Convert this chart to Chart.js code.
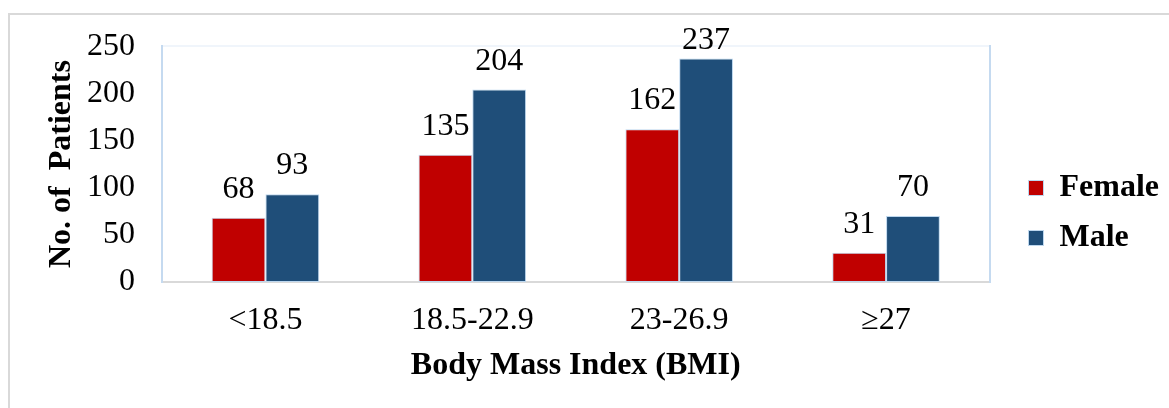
<!DOCTYPE html>
<html>
<head>
<meta charset="utf-8">
<script src="https://cdn.jsdelivr.net/npm/chart.js@4/dist/chart.umd.min.js"></script>
<style>
  html, body { margin: 0; padding: 0; background: #ffffff; }
  #wrap { position: relative; width: 1169px; height: 408px; overflow: hidden; }
  #frame { position: absolute; left: 8px; top: 13px; width: 1200px; height: 420px;
           border-top: 2px solid #d9d9d9; border-left: 2px solid #d9d9d9; }
  #c { position: absolute; left: 0; top: 0; }
</style>
</head>
<body>
<div id="wrap">
  <div id="frame"></div>
  <canvas id="c" width="1169" height="408"></canvas>
</div>
<script>
const categories = ['<18.5', '18.5-22.9', '23-26.9', '\u226527'];
const femaleValues = [68, 135, 162, 31];
const maleValues = [93, 204, 237, 70];
const seriesNames = ['Female', 'Male'];
const yTicks = [0, 50, 100, 150, 200, 250];
const xTitle = 'Body Mass Index (BMI)';
const yTitle = 'No. of  Patients';

const FONT = "'Liberation Serif', 'Times New Roman', serif";

const dataLabels = {
  id: 'dataLabels',
  afterDatasetsDraw(chart) {
    const ctx = chart.ctx;
    ctx.save();
    ctx.font = '32px ' + FONT;
    ctx.fillStyle = '#000000';
    ctx.textAlign = 'center';
    ctx.textBaseline = 'alphabetic';
    chart.data.datasets.forEach((ds, i) => {
      const meta = chart.getDatasetMeta(i);
      meta.data.forEach((bar, j) => {
        const y = Math.max(bar.y - 20, chart.chartArea.top + 3);
        ctx.fillText(String(ds.data[j]), bar.x, y);
      });
    });
    ctx.restore();
  }
};

new Chart(document.getElementById('c'), {
  type: 'bar',
  data: {
    labels: categories,
    datasets: [
      { label: seriesNames[0], data: femaleValues, backgroundColor: '#c00000',
        borderColor: '#bdd7ee', borderWidth: 1, borderSkipped: false,
        categoryPercentage: 0.52, barPercentage: 1.0 },
      { label: seriesNames[1], data: maleValues, backgroundColor: '#1f4e79',
        borderColor: '#bdd7ee', borderWidth: 1, borderSkipped: false,
        categoryPercentage: 0.52, barPercentage: 1.0 }
    ]
  },
  options: {
    responsive: false,
    animation: false,
    devicePixelRatio: 1,
    layout: { padding: { top: 18, left: 30, right: 0, bottom: 0 } },
    plugins: {
      tooltip: { enabled: false },
      legend: {
        position: 'right',
        align: 'center',
        labels: {
          boxWidth: 15, boxHeight: 15, padding: 18, color: '#000000',
          font: { family: FONT, size: 32, weight: 'bold' }
        }
      }
    },
    scales: {
      x: {
        position: 'bottom',
        grid: { display: false, drawTicks: false },
        border: { display: true, color: '#d9d9d9', width: 2 },
        ticks: { color: '#000000', padding: 19, font: { family: FONT, size: 32 } },
        title: { display: true, text: xTitle, color: '#000000',
                 padding: { top: 0, bottom: 23 },
                 font: { family: FONT, size: 32, weight: 'bold' } },
        afterFit(scale) { scale.height = 126; }
      },
      x2: {
        position: 'top',
        grid: { display: false, drawTicks: false },
        border: { display: true, color: '#f0f5fb', width: 2 },
        ticks: { display: false },
        afterFit(scale) { scale.height = 26; }
      },
      y: {
        position: 'left',
        min: 0, max: 250,
        afterBuildTicks(scale) { scale.ticks = yTicks.map(v => ({ value: v })); },
        grid: { display: false, drawTicks: false },
        border: { display: true, color: '#c5daf0', width: 2 },
        ticks: { color: '#000000', padding: 27, font: { family: FONT, size: 32 } },
        title: { display: true, text: yTitle, color: '#000000',
                 padding: { top: 13, bottom: 0 },
                 font: { family: FONT, size: 32, weight: 'bold' } },
        afterFit(scale) { scale.width = 132; }
      },
      y2: {
        position: 'right',
        grid: { display: false, drawTicks: false },
        border: { display: true, color: '#c5daf0', width: 2 },
        ticks: { display: false },
        afterFit(scale) { scale.width = 21; }
      }
    }
  },
  plugins: [dataLabels]
});
</script>
</body>
</html>
